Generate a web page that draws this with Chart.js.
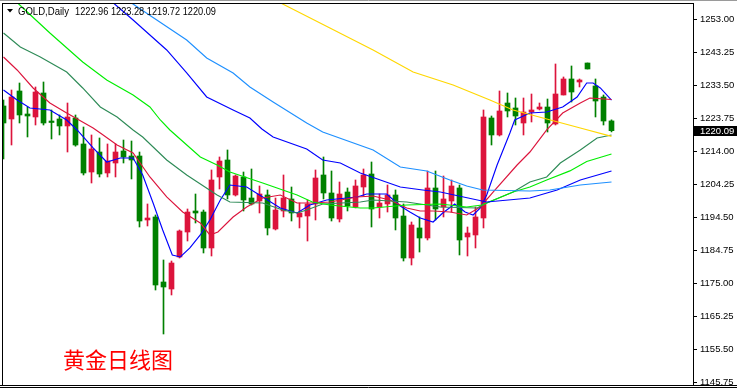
<!DOCTYPE html>
<html><head><meta charset="utf-8">
<script src="https://cdn.jsdelivr.net/npm/chart.js@4.4.1/dist/chart.umd.min.js"></script>
<style>html,body{margin:0;padding:0;background:#fff;overflow:hidden}canvas{display:block}</style>
</head><body>
<canvas id="c" width="737" height="389"></canvas>
<script>
const SYMBOL = 'GOLD,Daily';
const CAPTION = '黄金日线图';

const OPEN  = [1227.38,1223.54,1231.81,1225.01,1224.13,1231.22,1222.94,1223.54,1221.47,1223.83,
               1216.15,1207.87,1213.78,1207.58,1210.53,1214.08,1212.60,1212.60,1193.69,1194.58,
               1175.37,1173.30,1182.76,1190.14,1196.35,1196.05,1185.42,1206.40,1211.42,1201.08,
               1206.40,1200.19,1199.30,1201.08,1191.03,1196.35,1199.90,1194.58,1194.87,1198.42,
               1206.99,1201.67,1193.99,1201.96,1197.53,1203.44,1207.28,1197.53,1198.42,1201.08,
               1194.87,1182.46,1191.33,1188.37,1203.15,1197.53,1199.30,1203.15,1188.67,1189.26,
               1194.28,1223.83,1218.81,1228.26,1226.79,1222.35,1225.60,1226.49,1227.08,1222.06,
               1230.63,1235.36,1234.47,1240.08,1233.29,1230.04,1222.96];
const HIGH  = [1229.15,1232.10,1234.17,1227.08,1232.99,1234.47,1226.20,1224.72,1228.26,1224.72,
               1221.17,1218.81,1217.92,1216.15,1216.15,1217.33,1217.03,1213.78,1198.42,1195.17,
               1181.87,1181.57,1190.74,1196.94,1201.37,1196.64,1208.47,1212.31,1214.38,1206.99,
               1207.87,1208.76,1203.74,1202.56,1200.19,1206.99,1203.44,1198.71,1199.60,1208.47,
               1212.31,1208.17,1204.92,1203.15,1205.51,1208.76,1210.83,1201.37,1204.03,1202.56,
               1198.42,1193.10,1194.58,1208.17,1208.17,1206.69,1205.51,1204.03,1191.62,1197.53,
               1226.20,1224.42,1231.81,1231.22,1229.74,1229.74,1230.92,1228.26,1229.44,1239.79,
               1235.95,1239.20,1235.36,1240.08,1235.36,1230.63,1223.28];
const LOW   = [1211.72,1215.85,1222.35,1218.22,1221.76,1221.76,1217.63,1218.81,1213.78,1215.50,
               1206.99,1204.62,1206.40,1206.40,1206.40,1210.53,1205.81,1191.62,1191.92,1173.00,
               1160.00,1171.53,1182.46,1187.48,1192.80,1183.94,1183.05,1202.85,1199.90,1200.78,
               1196.35,1198.12,1195.76,1189.26,1190.74,1194.58,1193.39,1191.33,1187.48,1193.69,
               1199.90,1193.39,1193.10,1196.35,1197.24,1200.78,1191.62,1194.28,1196.05,1190.74,
               1181.57,1180.39,1184.23,1187.78,1193.69,1194.58,1196.05,1183.35,1183.05,1185.42,
               1191.33,1215.85,1218.51,1224.13,1221.76,1218.81,1222.65,1226.20,1219.69,1221.76,
               1230.63,1228.56,1233.00,1238.31,1224.13,1221.76,1219.72];
const CLOSE = [1222.35,1230.04,1224.72,1224.42,1231.51,1222.35,1222.50,1221.47,1224.13,1215.85,
               1207.58,1214.67,1207.28,1211.12,1213.78,1212.31,1211.42,1193.39,1194.28,1174.48,
               1173.89,1180.98,1190.44,1196.05,1195.76,1185.42,1205.51,1211.12,1201.08,1206.69,
               1199.60,1198.42,1201.37,1191.33,1196.64,1200.19,1195.76,1195.76,1198.42,1206.10,
               1201.67,1194.28,1201.37,1197.83,1203.74,1206.99,1196.94,1198.71,1201.08,1194.28,
               1182.46,1192.21,1188.37,1203.15,1196.94,1199.90,1203.74,1187.78,1189.85,1194.58,
               1224.13,1218.81,1225.90,1225.90,1224.42,1225.60,1226.20,1227.08,1222.35,1230.92,
               1235.36,1231.51,1235.06,1238.31,1228.85,1222.94,1220.09];

const TICKS = [1253.00,1243.25,1233.50,1223.75,1214.00,1204.25,1194.50,1184.75,1175.00,1165.25,1155.50,1145.75];

// moving-average lines: [bar index, price]
const MA5 = [[0,1232.1],[1.7,1229.15],[3.3,1226.79],[5.8,1226.2],[7.9,1223.24],[9.2,1220.29],[11.2,1214.97],[12.9,1210.83],[14.6,1212.01],[16.2,1212.01],[17.4,1206.99],[18.7,1198.71],[19.9,1190.74],[21.1,1183.35],[22.1,1182.76],[23.3,1185.42],[24.6,1189.26],[25.8,1193.69],[27.1,1199.6],[28.3,1204.03],[30.4,1203.44],[32.4,1200.49],[34.6,1197.24],[36.7,1195.76],[38.3,1198.12],[40.4,1199.6],[44.2,1200.49],[45.4,1201.37],[47.9,1201.37],[49.6,1197.83],[50.8,1196.05],[52.1,1194.28],[53.7,1193.1],[54.9,1195.76],[56.4,1198.42],[57.7,1196.05],[58.7,1195.17],[59.6,1197.24],[60.4,1201.08],[61.7,1209.94],[63.3,1219.4],[63.9,1223.24],[65.8,1225.31],[67.9,1225.6],[69.9,1227.08],[71.7,1230.04],[72.9,1234.17],[73.7,1234.17],[74.6,1232.7],[76,1229.1]];
const MA10 = [[0,1241.86],[1.7,1238.02],[3.7,1232.7],[5.8,1228.26],[7.9,1225.31],[11.2,1220.88],[12.1,1219.4],[14.2,1215.85],[16.2,1213.49],[18.3,1206.4],[20.4,1200.49],[22.4,1196.05],[24.6,1192.8],[25.8,1189.26],[26.8,1190.14],[28.7,1194.58],[30.4,1197.53],[32.4,1200.19],[34.6,1201.08],[36.7,1198.71],[38.6,1198.71],[40.8,1199.01],[44.2,1200.49],[46.2,1200.78],[48.3,1199.6],[50.4,1197.24],[52.1,1196.35],[53.7,1196.35],[55.8,1196.05],[57.9,1195.17],[59.6,1197.53],[61.2,1201.96],[64.2,1209.94],[65.8,1213.78],[67.9,1220.29],[69.9,1225.31],[72.1,1228.26],[73.3,1229.74],[76,1229.3]];
const MA20 = [[0,1248.95],[2.1,1244.81],[4.6,1241.86],[7.9,1237.42],[9.9,1232.7],[12.1,1227.08],[14.2,1224.13],[16.2,1220.29],[17.4,1218.22],[20.4,1211.42],[22.9,1206.99],[26.7,1201.08],[28.3,1199.01],[32.4,1198.71],[34.9,1196.64],[36.7,1195.76],[37.9,1196.64],[39.9,1198.42],[44.6,1199.01],[46.2,1199.6],[50.4,1199.01],[54.6,1197.53],[59.2,1197.24],[60.4,1198.71],[63.7,1201.96],[65.8,1204.92],[67.9,1206.4],[69.6,1210.53],[72.1,1214.38],[74.2,1217.92],[76,1218.8]];
const MA30 = [[0,1261.7],[2.7,1255.75],[5.8,1248.95],[9.9,1240.38],[12.9,1235.06],[16.2,1230.63],[18.3,1227.08],[19.6,1223.24],[20.8,1220.29],[24.6,1212.31],[26.7,1209.94],[28.3,1207.87],[32.4,1204.62],[36.7,1201.08],[38.6,1199.01],[40.8,1198.12],[44.6,1197.24],[46.2,1197.24],[50.4,1198.12],[54.6,1198.42],[57.9,1197.53],[59.8,1198.12],[63.7,1201.96],[65.8,1203.44],[67.9,1205.51],[70.8,1208.2],[72.9,1211.0],[76,1213.2]];
const MA60 = [[12,1261.5],[13.3,1258.7],[16.2,1252.79],[20.4,1243.93],[22.9,1237.13],[25.4,1230.04],[28.7,1226.2],[30.8,1223.83],[32.3,1220.58],[33.7,1218.22],[37.9,1214.67],[39.9,1211.42],[42.1,1210.53],[44.6,1207.58],[47.1,1205.51],[49.6,1203.44],[52.4,1202.56],[54.6,1201.96],[60.4,1199.01],[65.8,1200.19],[69.2,1202.56],[72.1,1205.51],[76,1208.17]];
const MA120 = [[14,1261.0],[16.0,1257.81],[18.6,1253.68],[22.9,1246.88],[25.4,1241.56],[28.7,1237.13],[30.8,1233.0],[33.7,1228.56],[37.9,1222.35],[39.9,1219.69],[46.2,1214.38],[49.6,1209.35],[52.9,1208.17],[55.8,1205.51],[57.9,1203.74],[59.9,1202.56],[65.8,1202.26],[68.3,1202.56],[72.1,1204.03],[76,1204.92]];
const MA200 = [[32,1261.0],[34.9,1257.52],[40.8,1250.43],[46.2,1243.93],[51.2,1237.42],[56.2,1233.58],[60.8,1229.15],[63.7,1226.2],[67.9,1223.54],[72.1,1220.88],[76,1218.4]];

const UP = '#DC143C', DOWN = '#008000';
const idx = OPEN.map((_, i) => i);
const colors = idx.map(i => CLOSE[i] >= OPEN[i] ? UP : DOWN);
const last = CLOSE.length - 1;

const lineDs = (arr, color) => ({
  type: 'line', data: arr.map(([x, y]) => ({x, y})), borderColor: color, borderWidth: 1.15,
  pointRadius: 0, tension: 0, fill: false, order: 0, clip: 0
});

const decor = {
  id: 'decor',
  beforeDraw(chart) {
    const ctx = chart.ctx;
    ctx.save(); ctx.fillStyle = '#fff'; ctx.fillRect(0, 0, chart.width, chart.height); ctx.restore();
  },
  afterDraw(chart) {
    const {ctx, chartArea: a, scales: {y}} = chart;
    ctx.save();
    ctx.strokeStyle = '#000'; ctx.lineWidth = 1;
    ctx.strokeRect(a.left + 0.5, a.top + 0.5, a.right - a.left, a.bottom - a.top);
    ctx.beginPath();
    ctx.moveTo(0, a.bottom + 0.5); ctx.lineTo(chart.width, a.bottom + 0.5);
    ctx.moveTo(0, a.bottom + 2.5); ctx.lineTo(chart.width, a.bottom + 2.5);
    ctx.stroke();
    ctx.strokeStyle = '#9a9a9a';
    ctx.beginPath(); ctx.moveTo(0, 0.5); ctx.lineTo(chart.width, 0.5); ctx.stroke();
    // header
    ctx.fillStyle = '#000';
    ctx.beginPath(); ctx.moveTo(7, 9); ctx.lineTo(13, 9); ctx.lineTo(10, 12.5); ctx.closePath(); ctx.fill();
    ctx.font = '10px "Liberation Sans"'; ctx.textBaseline = 'middle'; ctx.textAlign = 'left';
    ctx.fillText(SYMBOL, 18, 12, 51);
    ctx.fillText([OPEN[last], HIGH[last], LOW[last], CLOSE[last]].map(v => v.toFixed(2)).join(' '), 75, 12, 141);
    // caption
    ctx.fillStyle = '#ff0000';
    ctx.font = '22px "Noto Sans CJK SC"';
    ctx.fillText(CAPTION, 63, 360);
    // current price box
    const py = Math.round(y.getPixelForValue(CLOSE[last]));
    ctx.fillStyle = '#000';
    ctx.fillRect(a.right + 1, py - 5, chart.width - a.right - 1, 10);
    ctx.fillStyle = '#fff';
    ctx.font = '9.5px "Liberation Sans"';
    ctx.fillText(CLOSE[last].toFixed(2), a.right + 7, py + 0.5);
    ctx.restore();
  }
};

new Chart(document.getElementById('c'), {
  type: 'bar',
  data: {
    datasets: [
      lineDs(MA200, '#FFD700'),
      lineDs(MA120, '#1E90FF'),
      lineDs(MA60, '#0000FF'),
      lineDs(MA30, '#00EE00'),
      lineDs(MA20, '#2E8B57'),
      lineDs(MA10, '#DC143C'),
      lineDs(MA5, '#0000FF'),
      { type: 'bar', data: idx.map(i => ({x: i, y: [LOW[i], HIGH[i]]})), backgroundColor: colors,
        barThickness: 1, grouped: false, minBarLength: 1, order: 2, borderWidth: 0, clip: 0 },
      { type: 'bar', data: idx.map(i => ({x: i, y: [OPEN[i], CLOSE[i]]})), backgroundColor: colors,
        barThickness: 5, grouped: false, minBarLength: 1, order: 1, borderWidth: 0, clip: 0 }
    ]
  },
  options: {
    responsive: false, animation: false, devicePixelRatio: 1, events: [],
    layout: { padding: { left: 2, top: 3, right: 0, bottom: 4 } },
    plugins: { legend: { display: false }, tooltip: { enabled: false } },
    scales: {
      x: { type: 'linear', min: -0.1875, max: 86.1875, display: false, offset: false },
      y: {
        type: 'linear', position: 'right', min: 1144.93, max: 1257.81,
        afterBuildTicks: s => { s.ticks = TICKS.map(v => ({value: v})); },
        afterFit: s => { s.width = 44; s.paddingTop = 0; s.paddingBottom = 0; },
        ticks: { callback: v => Number(v).toFixed(2), color: '#000', padding: 3, autoSkip: false,
                 font: { family: 'Liberation Sans', size: 9.5 } },
        grid: { drawOnChartArea: false, drawTicks: true, tickLength: 4, color: '#000' },
        border: { display: true, color: '#000' }
      }
    }
  },
  plugins: [decor]
});
</script>
</body></html>
